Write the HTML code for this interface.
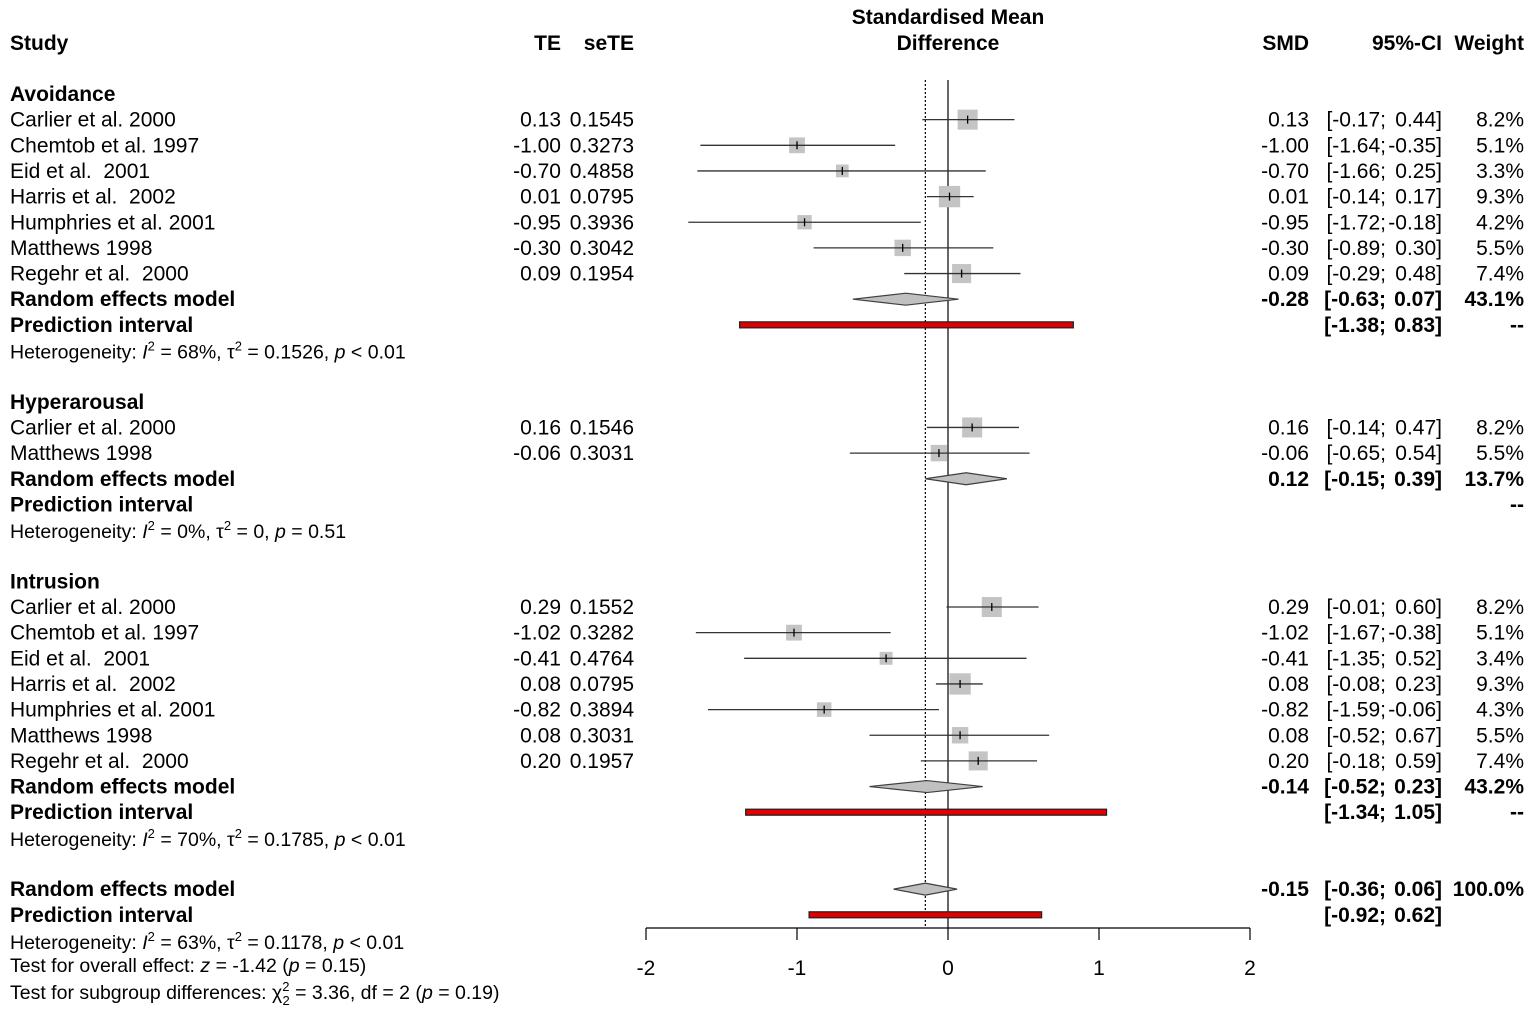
<!DOCTYPE html>
<html><head><meta charset="utf-8"><style>
html,body{margin:0;padding:0;background:#fff}
svg{display:block}
text{font-family:"Liberation Sans",Arial,sans-serif;font-size:21px;fill:#000;white-space:pre}
.b{font-weight:bold}
</style></head><body>
<svg id="plot" width="1535" height="1022" xmlns="http://www.w3.org/2000/svg"></svg>
<script>
// ---- data ----
const groupNames = ["Avoidance","Hyperarousal","Intrusion"];
const studyNames = [
 ["Carlier et al. 2000","Chemtob et al. 1997","Eid et al.  2001","Harris et al.  2002","Humphries et al. 2001","Matthews 1998","Regehr et al.  2000"],
 ["Carlier et al. 2000","Matthews 1998"],
 ["Carlier et al. 2000","Chemtob et al. 1997","Eid et al.  2001","Harris et al.  2002","Humphries et al. 2001","Matthews 1998","Regehr et al.  2000"]];
const teValues = [[0.13,-1.00,-0.70,0.01,-0.95,-0.30,0.09],[0.16,-0.06],[0.29,-1.02,-0.41,0.08,-0.82,0.08,0.20]];
const seValues = [["0.1545","0.3273","0.4858","0.0795","0.3936","0.3042","0.1954"],["0.1546","0.3031"],["0.1552","0.3282","0.4764","0.0795","0.3894","0.3031","0.1957"]];
const lowerValues = [[-0.17,-1.64,-1.66,-0.14,-1.72,-0.89,-0.29],[-0.14,-0.65],[-0.01,-1.67,-1.35,-0.08,-1.59,-0.52,-0.18]];
const upperValues = [[0.44,-0.35,0.25,0.17,-0.18,0.30,0.48],[0.47,0.54],[0.60,-0.38,0.52,0.23,-0.06,0.67,0.59]];
const weightValues = [[8.2,5.1,3.3,9.3,4.2,5.5,7.4],[8.2,5.5],[8.2,5.1,3.4,9.3,4.3,5.5,7.4]];
const reEst = [-0.28,0.12,-0.14];
const reLower = [-0.63,-0.15,-0.52];
const reUpper = [0.07,0.39,0.23];
const reWeight = ["43.1%","13.7%","43.2%"];
const piLower = [-1.38,null,-1.34];
const piUpper = [0.83,null,1.05];
const hetText = [
 ['Heterogeneity: ','I','2',' = 68%, ','τ','2',' = 0.1526, ','p',' < 0.01'],
 ['Heterogeneity: ','I','2',' = 0%, ','τ','2',' = 0, ','p',' = 0.51'],
 ['Heterogeneity: ','I','2',' = 70%, ','τ','2',' = 0.1785, ','p',' < 0.01']];
const overallEst = -0.15, overallLower = -0.36, overallUpper = 0.06;
const overallPiLower = -0.92, overallPiUpper = 0.62;
const axisTicks = [-2,-1,0,1,2];

// ---- helpers ----
const svg = document.getElementById('plot');
const NS = "http://www.w3.org/2000/svg";
const X0 = 948, XS = 151;
const xs = v => X0 + v*XS;
const STEP = 25.65, Y0 = 94;
const ys = k => Y0 + k*STEP;
function el(tag, attrs, parent){const e=document.createElementNS(NS,tag);for(const k in attrs)e.setAttribute(k,attrs[k]);(parent||svg).appendChild(e);return e;}
function txt(x,y,s,anchor,bold){const t=el('text',{x:x,y:y+7,'text-anchor':anchor||'start'});if(bold)t.setAttribute('class','b');t.textContent=s;return t;}
const f2 = v => v.toFixed(2);
function ci(lo,hi,y,bold){
  const a=txt(1386,y,'['+f2(lo)+';','end',bold);
  
  
  const b=txt(1442,y,f2(hi)+']','end',bold);
  
  
}
function het(y,parts){
  const t=el('text',{x:10,y:y+7});
  
  
  t.style.fontSize='19.5px';
  parts.forEach((p,i)=>{const s=el('tspan',{},t);s.textContent=p;
    if(i==1||i==7)s.setAttribute('font-style','italic');
    if(i==2||i==5){s.setAttribute('dy','-8');s.setAttribute('font-size','13');}
    if(i==3||i==6){s.setAttribute('dy','8');}
  });
}
function diamond(est,lo,hi,y,name){
  const d=el('polygon',{points:`${xs(lo)},${y} ${xs(est)},${y-6} ${xs(hi)},${y} ${xs(est)},${y+6}`,fill:'#c0c0c0',stroke:'#404040','stroke-width':1.2});
  
  
}
function pibar(lo,hi,y){
  const r=el('rect',{x:xs(lo),y:y-3,width:xs(hi)-xs(lo),height:6,fill:'#e00000',stroke:'#202020','stroke-width':1.2});
  
  
}

// headers
let h;
h=txt(10,43,'Study','start',true);
h=txt(561,43,'TE','end',true);
h=txt(634,43,'seTE','end',true);
h=txt(948,17,'Standardised Mean','middle',true);
h=txt(948,43,'Difference','middle',true);
h=txt(1309,43,'SMD','end',true);
h=txt(1442,43,'95%-CI','end',true);
h=txt(1524,43,'Weight','end',true);

// reference lines
let ln=el('line',{x1:xs(0),y1:80,x2:xs(0),y2:928,stroke:'#000','stroke-width':1.2});

ln=el('line',{x1:xs(overallEst),y1:80,x2:xs(overallEst),y2:928,stroke:'#000','stroke-width':1.2,'stroke-dasharray':'2,2'});


// groups
const groupStart=[0,12,19];
groupNames.forEach((g,gi)=>{
  let k=groupStart[gi];
  let t=txt(10,ys(k),g,'start',true);
  
  
  studyNames[gi].forEach((n,si)=>{
    k++;const y=ys(k);
    const te=teValues[gi][si],lo=lowerValues[gi][si],hi=upperValues[gi][si],w=weightValues[gi][si];
    let a=txt(10,y,n);
    a=txt(561,y,f2(te),'end');
    a=txt(634,y,seValues[gi][si],'end');
    a=txt(1309,y,f2(te),'end');
    ci(lo,hi,y,false);
    a=txt(1524,y,w.toFixed(1)+'%','end');
    const sz=7*Math.sqrt(w);
    const sq=el('rect',{x:xs(te)-sz/2,y:y-sz/2,width:sz,height:sz,fill:'#c4c4c4'});
    
    const l=el('line',{x1:xs(lo),y1:y,x2:xs(hi),y2:y,stroke:'#333','stroke-width':1.3});
    
    const c=el('line',{x1:xs(te),y1:y-4,x2:xs(te),y2:y+4,stroke:'#000','stroke-width':1.3});
    
  });
  k++;let y=ys(k);
  t=txt(10,y,'Random effects model','start',true);
  t=txt(1309,y,f2(reEst[gi]),'end',true);
  ci(reLower[gi],reUpper[gi],y,true);
  t=txt(1524,y,reWeight[gi],'end',true);
  diamond(reEst[gi],reLower[gi],reUpper[gi],y,'subgroup-diamond');
  k++;y=ys(k);
  t=txt(10,y,'Prediction interval','start',true);
  if(piLower[gi]!==null){ci(piLower[gi],piUpper[gi],y,true);pibar(piLower[gi],piUpper[gi],y);}
  t=txt(1524,y,'--','end',true);
  k++;het(ys(k)+1,hetText[gi]);
});

// overall
let yo=ys(31);
let t=txt(10,yo,'Random effects model','start',true);
t=txt(1309,yo,f2(overallEst),'end',true);
ci(overallLower,overallUpper,yo,true);
t=txt(1524,yo,'100.0%','end',true);
diamond(overallEst,overallLower,overallUpper,yo,'overall-diamond');
yo=ys(32);
t=txt(10,yo,'Prediction interval','start',true);
ci(overallPiLower,overallPiUpper,yo,true);
pibar(overallPiLower,overallPiUpper,yo);
het(942,['Heterogeneity: ','I','2',' = 63%, ','τ','2',' = 0.1178, ','p',' < 0.01']);
let tt=el('text',{x:10,y:972});tt.style.fontSize='19.5px';

tt.innerHTML='Test for overall effect: <tspan font-style="italic">z</tspan> = -1.42 (<tspan font-style="italic">p</tspan> = 0.15)';
tt=el('text',{x:10,y:999});tt.style.fontSize='19.5px';

tt.innerHTML='Test for subgroup differences: χ<tspan dy="-8" font-size="13">2</tspan><tspan dx="-7" dy="14" font-size="13">2</tspan><tspan dy="-6"> = 3.36, df = 2 (</tspan><tspan font-style="italic">p</tspan> = 0.19)';

// axis
let ax=el('line',{x1:xs(axisTicks[0]),y1:928,x2:xs(axisTicks[axisTicks.length-1]),y2:928,stroke:'#000','stroke-width':1.2});

axisTicks.forEach(v=>{
  const tk=el('line',{x1:xs(v),y1:928,x2:xs(v),y2:940,stroke:'#000','stroke-width':1.2});
  
  const lb=txt(xs(v),968,String(v),'middle');
  
});
</script>
</body></html>
